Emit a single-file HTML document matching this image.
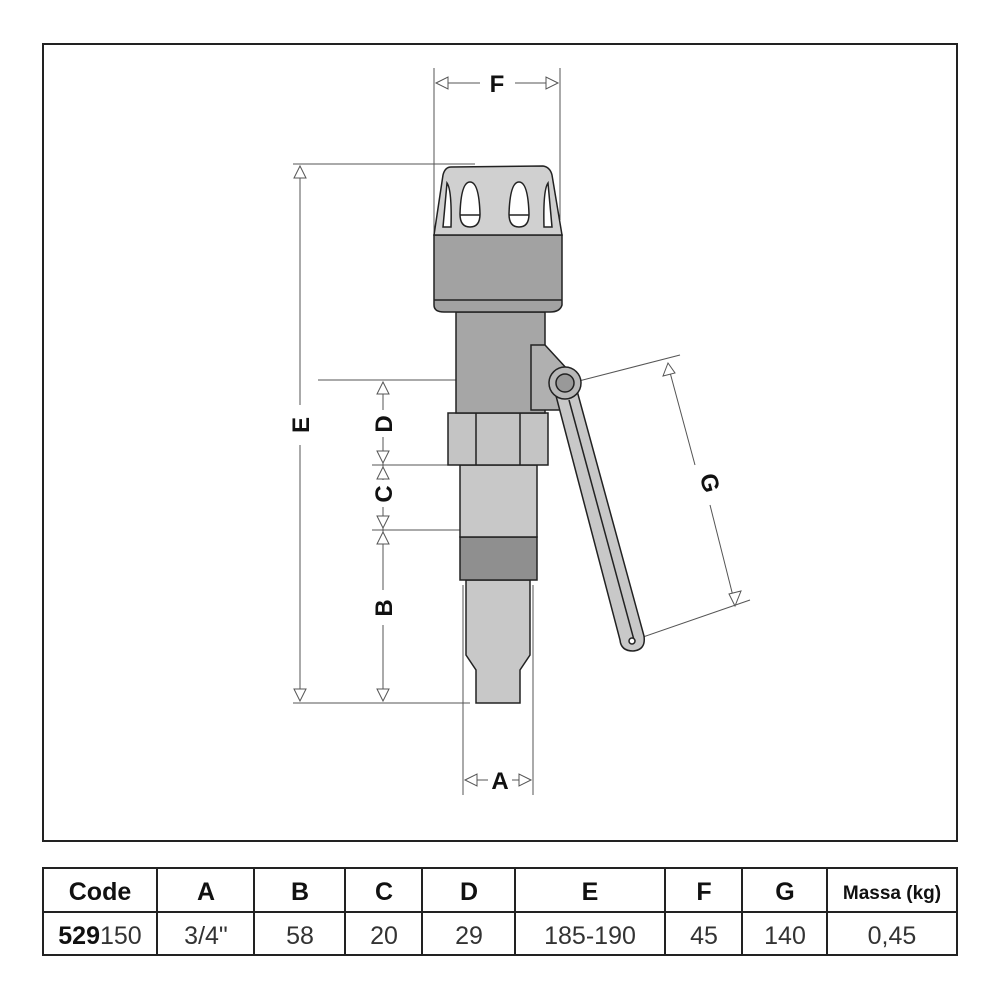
<!DOCTYPE html>
<html><head><style>
html,body{margin:0;padding:0;background:#fff;}
svg{display:block;}
</style></head><body>
<svg width="1000" height="1000" viewBox="0 0 1000 1000" xmlns="http://www.w3.org/2000/svg" font-family="Liberation Sans, sans-serif">
<rect x="43" y="44" width="914" height="797" fill="#fff" stroke="#222" stroke-width="2"/>
<g stroke="#555" stroke-width="1" fill="none">
 <line x1="434" y1="68" x2="434" y2="260"/><line x1="560" y1="68" x2="560" y2="220"/>
 <line x1="436" y1="83" x2="480" y2="83"/><line x1="515" y1="83" x2="558" y2="83"/>
 <line x1="293" y1="164" x2="475" y2="164"/><line x1="293" y1="703" x2="470" y2="703"/>
 <line x1="300" y1="166" x2="300" y2="405"/><line x1="300" y1="445" x2="300" y2="701"/>
 <line x1="318" y1="380" x2="560" y2="380"/>
 <line x1="372" y1="465" x2="450" y2="465"/>
 <line x1="372" y1="530" x2="460" y2="530"/>
 <line x1="383" y1="382" x2="383" y2="410"/><line x1="383" y1="437" x2="383" y2="480"/>
 <line x1="383" y1="507" x2="383" y2="590"/><line x1="383" y1="625" x2="383" y2="701"/>
 <line x1="463" y1="585" x2="463" y2="795"/><line x1="533" y1="585" x2="533" y2="795"/>
 <line x1="465" y1="780" x2="488" y2="780"/><line x1="512" y1="780" x2="531" y2="780"/>
 <line x1="575" y1="382" x2="680" y2="355"/><line x1="643" y1="637" x2="750" y2="600"/>
 <line x1="668" y1="365" x2="695" y2="465"/><line x1="710" y1="505" x2="735" y2="604"/>
</g>
<g fill="#fff" stroke="#555" stroke-width="1">
 <polygon points="436,83 448,77 448,89"/><polygon points="558,83 546,77 546,89"/>
 <polygon points="300,166 294,178 306,178"/><polygon points="300,701 294,689 306,689"/>
 <polygon points="383,382 377,394 389,394"/>
 <polygon points="383,463 377,451 389,451"/><polygon points="383,467 377,479 389,479"/>
 <polygon points="383,528 377,516 389,516"/><polygon points="383,532 377,544 389,544"/>
 <polygon points="383,701 377,689 389,689"/>
 <polygon points="465,780 477,774 477,786"/><polygon points="531,780 519,774 519,786"/>
 <polygon points="668,363 663,376 675,373"/><polygon points="735,606 729,594 741,591"/>
</g>
<g font-weight="bold" font-size="24" fill="#111" text-anchor="middle">
 <text x="497" y="92">F</text>
 <text x="500" y="789">A</text>
 <text transform="translate(309,425) rotate(-90)">E</text>
 <text transform="translate(392,424) rotate(-90)">D</text>
 <text transform="translate(392,494) rotate(-90)">C</text>
 <text transform="translate(392,608) rotate(-90)">B</text>
 <text transform="translate(702,485) rotate(75)">G</text>
</g>
<g stroke="#222" stroke-width="1.5">
 <path d="M476,670 L476,703 L520,703 L520,670 L530,655 L530,580 L466,580 L466,655 Z" fill="#c8c8c8"/>
 <rect x="460" y="537" width="77" height="43" fill="#8f8f8f"/>
 <rect x="460" y="465" width="77" height="72" fill="#c8c8c8"/>
 <rect x="448" y="413" width="100" height="52" fill="#c4c4c4"/>
 <line x1="476" y1="413" x2="476" y2="465"/><line x1="520" y1="413" x2="520" y2="465"/>
 <rect x="456" y="312" width="89" height="101" fill="#a6a6a6"/>
 <path d="M531,345 L545,345 L568,370 L560,410 L531,410 Z" fill="#b0b0b0"/>
 <path d="M434,235 L562,235 L562,305 Q560,312 550,312 L444,312 Q434,312 434,305 Z" fill="#a2a2a2"/>
 <line x1="434" y1="300" x2="562" y2="300"/>
 <path d="M451,167 L543,166 Q550,167 552,175 L562,235 L434,235 L443,175 Q445,167 451,167 Z" fill="#d0d0d0"/>
 <path d="M470,182 Q479,182 480,214 Q480,227 470,227 Q460,227 460,214 Q461,182 470,182 Z" fill="#fff"/>
 <path d="M519,182 Q528,182 529,214 Q529,227 519,227 Q509,227 509,214 Q510,182 519,182 Z" fill="#fff"/>
 <path d="M447,183 Q452,190 451,227 L443,227 Z" fill="#fff"/>
 <path d="M548,183 Q543,190 544,227 L552,227 Z" fill="#fff"/>
 <line x1="460" y1="215" x2="480" y2="215"/><line x1="509" y1="215" x2="529" y2="215"/>
 <path d="M555,392 L576,387 L644,636 Q646,650 633,651 Q621,651 620,640 Z" fill="#c8c8c8"/>
 <line x1="569" y1="400" x2="634" y2="640"/>
 <circle cx="565" cy="383" r="16" fill="#b8b8b8"/>
 <circle cx="565" cy="383" r="9" fill="#999"/>
 <circle cx="632" cy="641" r="3" fill="#fff"/>
</g>
<g stroke="#222" stroke-width="2" fill="none">
 <rect x="43" y="868" width="914" height="87"/>
 <line x1="43" y1="912" x2="957" y2="912"/>
 <line x1="157" y1="868" x2="157" y2="955"/><line x1="254" y1="868" x2="254" y2="955"/>
 <line x1="345" y1="868" x2="345" y2="955"/><line x1="422" y1="868" x2="422" y2="955"/>
 <line x1="515" y1="868" x2="515" y2="955"/><line x1="665" y1="868" x2="665" y2="955"/>
 <line x1="742" y1="868" x2="742" y2="955"/><line x1="827" y1="868" x2="827" y2="955"/>
</g>
<g font-size="25" fill="#111" text-anchor="middle">
 <g font-weight="bold">
  <text x="100" y="900">Code</text><text x="206" y="900">A</text><text x="300" y="900">B</text>
  <text x="384" y="900">C</text><text x="469" y="900">D</text><text x="590" y="900">E</text>
  <text x="704" y="900">F</text><text x="785" y="900">G</text>
  <text x="892" y="899" font-size="19">Massa (kg)</text>
 </g>
 <g fill="#333">
 <text x="100" y="944"><tspan font-weight="bold" fill="#111">529</tspan>150</text>
 <text x="206" y="944">3/4"</text><text x="300" y="944">58</text><text x="384" y="944">20</text>
 <text x="469" y="944">29</text><text x="590" y="944">185-190</text><text x="704" y="944">45</text>
 <text x="785" y="944">140</text><text x="892" y="944">0,45</text>
 </g>
</g>
</svg>
</body></html>
